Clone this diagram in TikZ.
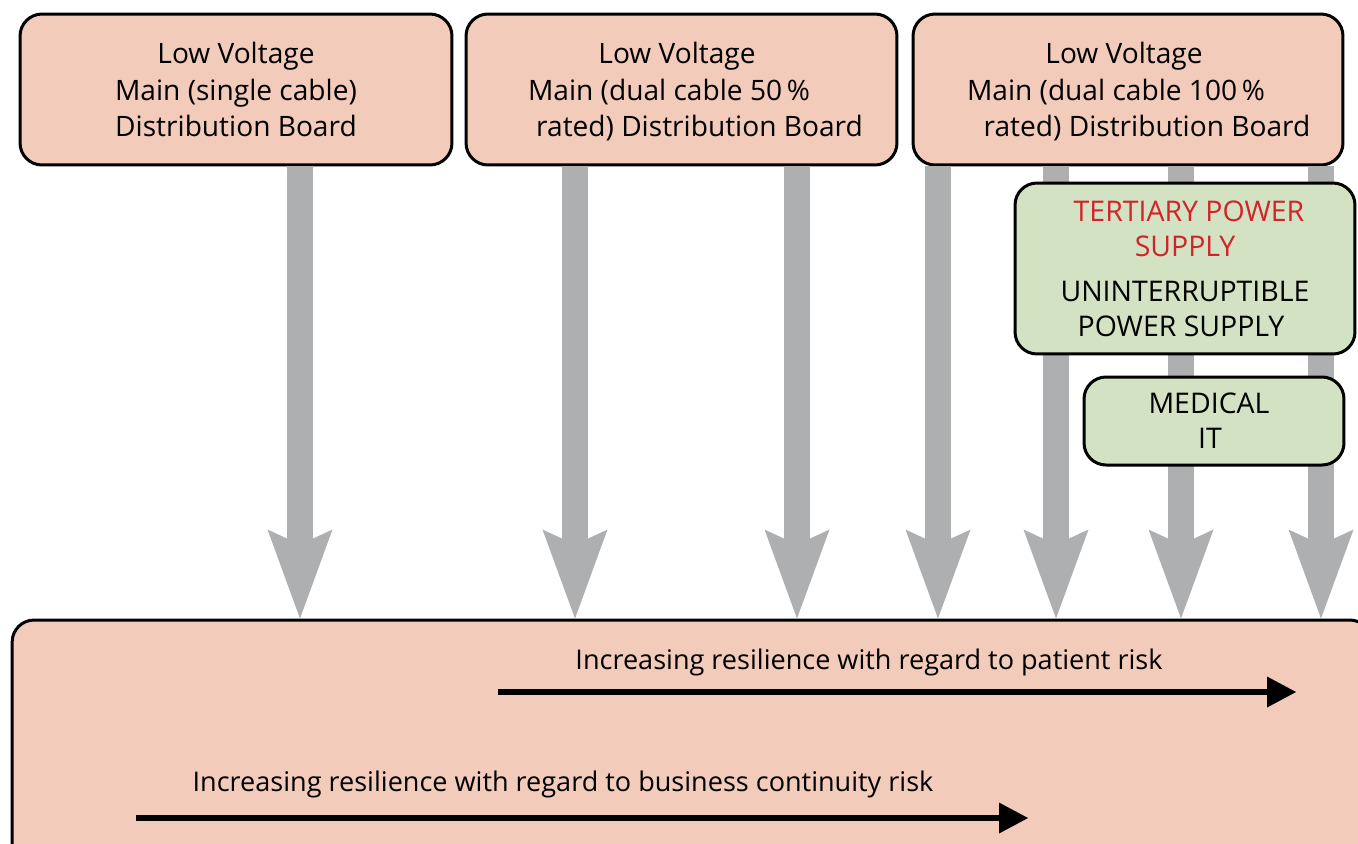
\documentclass[tikz,border=0pt]{standalone}
\usepackage{fontspec}
\setmainfont{Open Sans}
\usetikzlibrary{arrows.meta}
\definecolor{lvPink}{HTML}{F2CBBA}
\definecolor{upsGreen}{HTML}{D3E2C2}
\definecolor{feedGray}{HTML}{AEAFB1}
\definecolor{tertRed}{HTML}{D2232A}

\begin{document}
\begin{tikzpicture}[x=0.02cm,y=-0.02cm,
  board/.style={draw=black,line width=0.06cm,fill=lvPink,rounded corners=0.44cm,
    inner sep=0pt,align=center,text depth=0pt,font=\fontsize{16}{20.7}\selectfont},
  upsbox/.style={board,fill=upsGreen,font=\fontsize{16.2}{20}\selectfont},
  feed/.style={draw=feedGray,line width=0.52cm,
    -{Stealth[length=1.78cm,width=1.3cm,inset=0.3cm,line width=0pt]}},
  riskarrow/.style={draw=black,line width=0.12cm,
    -{Triangle[length=0.58cm,width=0.62cm,line width=0pt]}},
  risktext/.style={inner sep=0pt,font=\fontsize{15.4}{18}\selectfont}]
\useasboundingbox (0,0) rectangle (1358,843);
\clip (0,0) rectangle (1358,843);
% main distribution boards
\node[board,minimum width=8.64cm,minimum height=3.02cm] (lv1) at (236,89.5)
  {Low Voltage\\Main (single cable)\\Distribution Board};
\node[board,minimum width=8.62cm,minimum height=3.02cm] (lv2) at (681.5,89.5)
  {Low Voltage\hspace*{0.18cm}\\\hspace*{-0.5cm}Main (dual cable 50\,\%\\\hspace*{0.72cm}rated) Distribution Board};
\node[board,minimum width=8.6cm,minimum height=3.02cm] (lv3) at (1128,89.5)
  {Low Voltage\hspace*{0.16cm}\\\hspace*{-0.48cm}Main (dual cable 100\,\%\\\hspace*{0.76cm}rated) Distribution Board};
% resilience panel
\node[board,minimum width=27.2cm,minimum height=5.2cm] (risk) at (692,750) {};
\node[risktext] (patient) at (869,662) {Increasing resilience with regard to patient risk};
\node[risktext] (business) at (563,784) {Increasing resilience with regard to business continuity risk};
\coordinate (pa) at (498,692);
\coordinate (pb) at (1296,692);
\coordinate (ba) at (136,818);
\coordinate (bb) at (1028,818);
\draw[riskarrow] (pa) -- (pb);
\draw[riskarrow] (ba) -- (bb);
% feeds
\foreach \xa/\src in {300/lv1,575/lv2,797/lv2,938/lv3,1056/lv3,1181/lv3,1321/lv3}
  \draw[feed] (\xa,0 |- \src.south) -- (\xa,0 |- risk.north);
% secondary supplies
\node[upsbox,minimum width=6.8cm,minimum height=3.42cm] (ups) at (1185,268.5)
  {\textcolor{tertRed}{TERTIARY POWER}\hspace*{-0.16cm}\\\textcolor{tertRed}{SUPPLY}\hspace*{-0.16cm}\\[0.2cm]UNINTERRUPTIBLE\hspace*{0.08cm}\\POWER SUPPLY\hspace*{0.16cm}};
\node[upsbox,minimum width=5.2cm,minimum height=1.76cm] (medit) at (1214,421)
  {MEDICAL\hspace*{0.2cm}\\IT\hspace*{0.16cm}};
\end{tikzpicture}
\end{document}
